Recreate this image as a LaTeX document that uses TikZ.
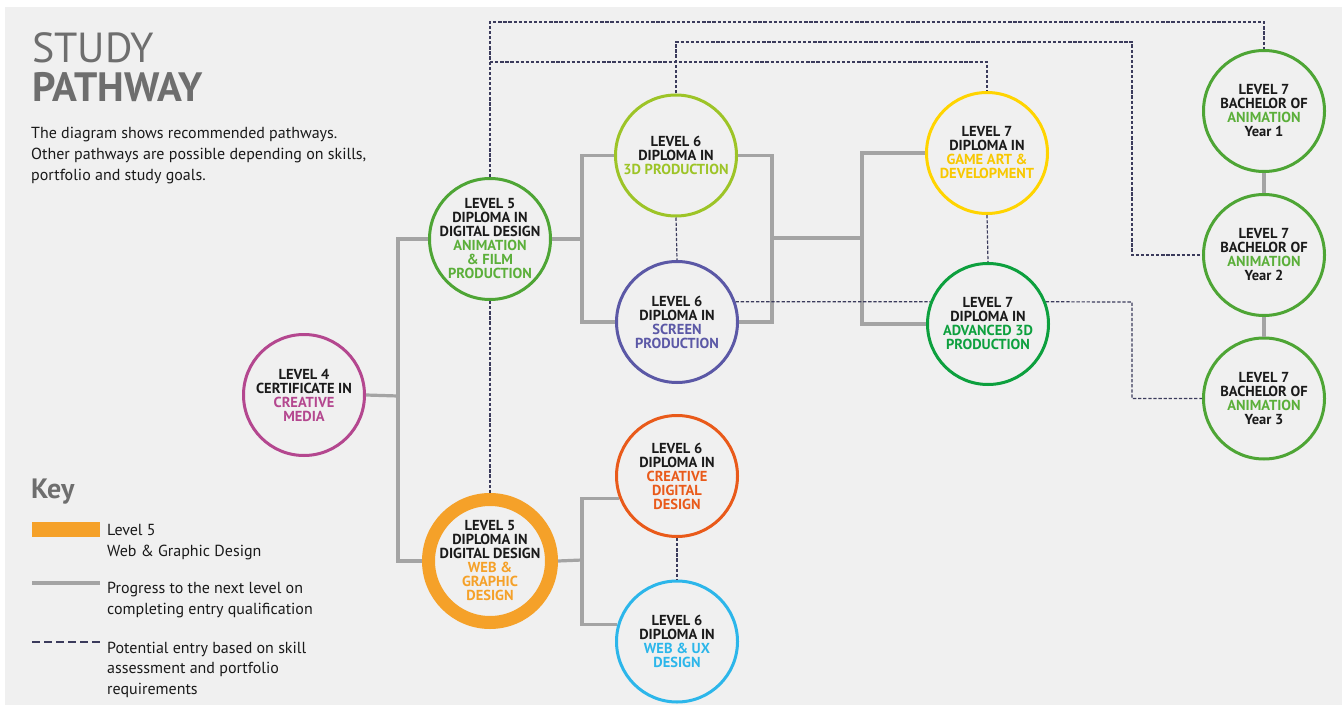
\documentclass[tikz,border=0pt]{standalone}
\usepackage{fontspec}
\setmainfont{PT Sans}
\definecolor{bgc}{HTML}{F0F0F0}
\definecolor{titlegray}{HTML}{6E6E6E}
\definecolor{magc}{HTML}{B4478F}
\definecolor{animc}{HTML}{4EA535}
\definecolor{animt}{HTML}{5BAF3A}
\definecolor{orangec}{HTML}{F5A129}
\definecolor{limec}{HTML}{9DC427}
\definecolor{purplec}{HTML}{5B58A6}
\definecolor{yellowc}{HTML}{FFD400}
\definecolor{yellowt}{HTML}{F8C800}
\definecolor{advc}{HTML}{0DA03E}
\definecolor{cdc}{HTML}{E95A1A}
\definecolor{cyanc}{HTML}{2CB6EA}
\definecolor{linkgray}{HTML}{A4A4A4}
\definecolor{dashcol}{HTML}{3B3B5C}
\definecolor{inkc}{HTML}{1A1A1A}
\begin{document}
\begin{tikzpicture}[x=1pt,y=-1pt,
  circ/.style={circle, draw, line width=3pt, minimum size=121pt, inner sep=-12pt, align=center,
    font=\bfseries\fontsize{14.5}{14}\selectfont, text=inkc},
  link/.style={draw=linkgray, line width=3.2pt},
  potential/.style={draw=dashcol, line width=1.2pt, dash pattern=on 3.3pt off 1.8pt},
  keydash/.style={draw=dashcol, line width=1.2pt, dash pattern=on 8pt off 4pt},
  txt/.style={anchor=base west, inner sep=0pt, font=\fontsize{16}{20}\selectfont, text=inkc}]
\useasboundingbox (0,0) rectangle (1342,709);
\fill[bgc] (5,7) rectangle (1342,705);

% title
\node[anchor=base west, inner sep=0pt, text=titlegray, font=\fontsize{42}{42}\selectfont] (t1) at (32,63) {STUDY};
\node[anchor=base west, inner sep=0pt, text=titlegray, font=\bfseries\fontsize{41}{41}\selectfont] (t2) at (32,102) {PATHWAY};
\node[txt] (d1) at (31,138) {The diagram shows recommended pathways.};
\node[txt] (d2) at (31,159) {Other pathways are possible depending on skills,};
\node[txt] (d3t) at (31,180) {portfolio and study goals.};

% key
\node[anchor=base west, inner sep=0pt, text=titlegray, font=\bfseries\fontsize{28}{28}\selectfont] (key) at (31,498) {Key};
\fill[orangec] (32,522) rectangle (100,537);
\node[txt] (k1) at (107,535) {Level 5};
\node[txt] (k2) at (107,556) {Web \& Graphic Design};
\coordinate (ka) at (32,583); \coordinate (kb) at (100,583);
\draw[link] (ka) -- (kb);
\node[txt] (k3) at (107,593) {Progress to the next level on};
\node[txt] (k4) at (107,614) {completing entry qualification};
\coordinate (kc) at (32,642); \coordinate (kd) at (100,642);
\draw[keydash] (kc) -- (kd);
\node[txt] (k5) at (107,653) {Potential entry based on skill};
\node[txt] (k6) at (107,673) {assessment and portfolio};
\node[txt] (k7) at (107,694) {requirements};

% circles
\node[circ, draw=magc] (l4) at (304,395) {LEVEL 4\\CERTIFICATE IN\\\textcolor{magc}{CREATIVE}\\\textcolor{magc}{MEDIA}};
\node[circ, draw=animc] (anim) at (490,239) {LEVEL 5\\DIPLOMA IN\\DIGITAL DESIGN\\\textcolor{animt}{ANIMATION}\\\textcolor{animt}{\& FILM}\\\textcolor{animt}{PRODUCTION}};
\node[circ, draw=orangec, line width=13pt, minimum size=123pt] (web) at (490,561) {LEVEL 5\\DIPLOMA IN\\DIGITAL DESIGN\\\textcolor{orangec}{WEB \&}\\\textcolor{orangec}{GRAPHIC}\\\textcolor{orangec}{DESIGN}};
\node[circ, draw=limec] (d3) at (676,155.5) {LEVEL 6\\DIPLOMA IN\\\textcolor{limec}{3D PRODUCTION}};
\node[circ, draw=purplec] (scr) at (677,322) {LEVEL 6\\DIPLOMA IN\\\textcolor{purplec}{SCREEN}\\\textcolor{purplec}{PRODUCTION}};
\node[circ, draw=cdc] (cd) at (677,476) {LEVEL 6\\DIPLOMA IN\\\textcolor{cdc}{CREATIVE}\\\textcolor{cdc}{DIGITAL}\\\textcolor{cdc}{DESIGN}};
\node[circ, draw=cyanc] (ux) at (677,641.5) {LEVEL 6\\DIPLOMA IN\\\textcolor{cyanc}{WEB \& UX}\\\textcolor{cyanc}{DESIGN}};
\node[circ, draw=yellowc] (game) at (987,153) {LEVEL 7\\DIPLOMA IN\\\textcolor{yellowt}{GAME ART \&}\\\textcolor{yellowt}{DEVELOPMENT}};
\node[circ, draw=advc] (adv) at (988,324) {LEVEL 7\\DIPLOMA IN\\\textcolor{advc}{ADVANCED 3D}\\\textcolor{advc}{PRODUCTION}};
\node[circ, draw=animc] (y1) at (1264,111) {LEVEL 7\\BACHELOR OF\\\textcolor{animt}{ANIMATION}\\Year 1};
\node[circ, draw=animc] (y2) at (1264,255) {LEVEL 7\\BACHELOR OF\\\textcolor{animt}{ANIMATION}\\Year 2};
\node[circ, draw=animc] (y3) at (1264,398.5) {LEVEL 7\\BACHELOR OF\\\textcolor{animt}{ANIMATION}\\Year 3};

% solid connectors
\coordinate (j0) at (398,396);
\coordinate (j2) at (582,239);
\coordinate (j3) at (772,238);
\coordinate (j4) at (862,238);
\coordinate (j5) at (582,560);
\draw[link] (l4.east) -- (j0);
\draw[link] (anim.west) -| (j0) |- (web.west);
\draw[link] (anim.east) -- (j2);
\draw[link] (d3.west) -| (j2) |- (scr.west);
\draw[link] (d3.east) -| (j3) |- (scr.east);
\draw[link] (j3) -- (j4);
\draw[link] (game.west) -| (j4) |- (adv.west);
\draw[link] (web.east) -- (j5);
\draw[link] (cd.201.8) -| (j5) |- (ux.164.6);
\draw[link] (y1.south) -- (y2.north);
\draw[link] (y2.south) -- (y3.north);

% dashed connectors
\coordinate (c1) at (490,22);
\coordinate (c2) at (490,62);
\coordinate (c3) at (1132,42);
\coordinate (c4) at (1132,302);
\draw[potential] (anim.north) -- (c1) -| (y1.north);
\draw[potential] (c2) -| (game.north);
\draw[potential] (d3.north) |- (c3) |- (y2.west);
\draw[potential] (anim.south) -- (web.north);
\draw[potential] (d3.south) -- (scr.north);
\draw[potential] (game.south) -- (adv.north);
\draw[potential] (cd.south) -- (ux.north);
\draw[potential] (scr.19) -- (adv.159);
\draw[potential] (adv.21) -- (c4) |- (y3.west);
\end{tikzpicture}
\end{document}
